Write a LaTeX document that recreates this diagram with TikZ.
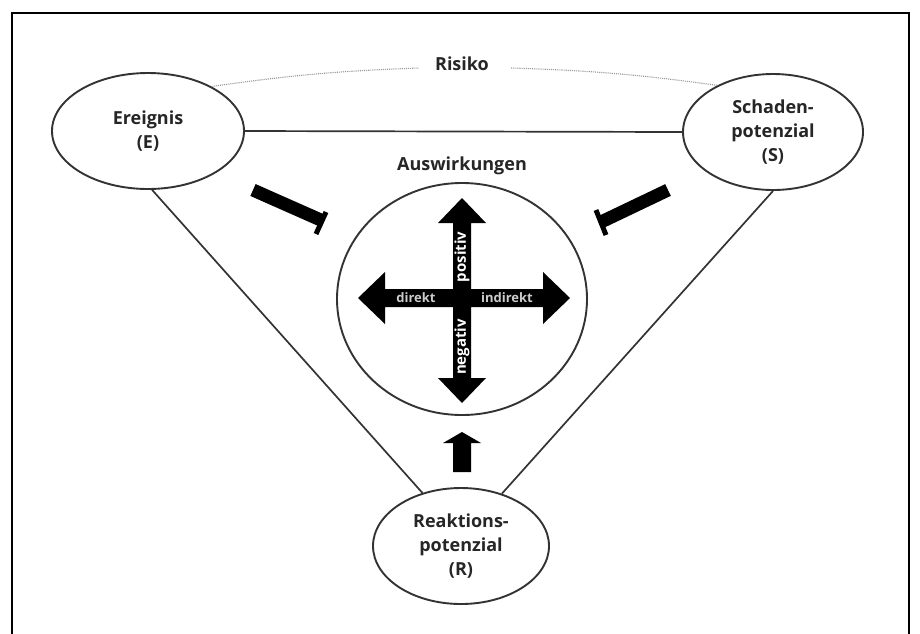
\documentclass[tikz,border=0pt]{standalone}
\usepackage{fontspec}
\setmainfont{Open Sans}
\usetikzlibrary{shapes.geometric,calc}
\definecolor{ink}{HTML}{262626}
\definecolor{lin}{HTML}{333333}
\definecolor{dots}{HTML}{999999}
\tikzset{
  ell/.style={draw=lin, line width=1.9pt, ellipse, inner sep=0pt, align=center,
    text=ink, font=\bfseries\fontsize{18}{24}\selectfont},
  lbl/.style={text=ink, font=\bfseries\fontsize{18}{22}\selectfont, inner sep=0pt},
  ln/.style={draw=lin, line width=1.7pt},
  risk/.style={draw=dots, line width=1.1pt, densely dotted},
  crosslbl/.style={text=white, font=\bfseries\fontsize{15}{15}\selectfont, inner sep=0pt},
  sidelbl/.style={text=gray!40, font=\bfseries\fontsize{13}{13}\selectfont, inner sep=0pt},
  blk/.style={draw=black, line width=13pt},
  blkbar/.style={draw=black, line width=5pt}
}
\begin{document}
\begin{tikzpicture}[x=1pt,y=-1pt]
\useasboundingbox (0,0) rectangle (920,633);
\fill[white] (0,0) rectangle (920,633);
% frame
\draw[line width=2pt] (12,645) -- (12,13) -- (909,13) -- (909,645);

% nodes
\node[ell, minimum width=192pt, minimum height=116pt] (E) at (148,131) {Ereignis\\(E)};
\node[ell, minimum width=180pt, minimum height=116pt] (S) at (773,132) {Schaden-\\potenzial\\(S)};
\node[ell, minimum width=176pt, minimum height=116pt] (R) at (461,546) {Reaktions-\\potenzial\\(R)};
\node[draw=lin, line width=1.9pt, ellipse, minimum width=250pt, minimum height=232pt, inner sep=0pt] (C) at (462,299) {};
\node[lbl] (A) at (462,166) {Auswirkungen};
\node[lbl] (Ri) at (462,64) {Risiko};

% connectors
\draw[ln] (E.east) -- (S.west);
\draw[ln] (E.-86) -- (R.126);
\draw[ln] (S.-90) -- (R.52);
\draw[risk] (E.35) to[bend left=3] ([xshift=-16pt,yshift=-4pt]Ri.west);
\draw[risk] ([xshift=22pt,yshift=-4pt]Ri.east) to[bend left=3] (S.140);

% black arrows towards the circle
\coordinate (la) at (253,190);
\coordinate (lb) at (323,221);
\draw[blk] (la) -- (lb);
\draw[blkbar] (326,212) -- (316,234);
\coordinate (ra) at (668,190);
\coordinate (rb) at (601,222);
\draw[blk] (ra) -- (rb);
\draw[blkbar] (596,210) -- (606,235);
\fill[black] (453,472) -- (453,443) -- (443,443) -- (462,432) -- (481,443)
  -- (471,443) -- (471,472) -- cycle;

% cross of arrows
\fill[black] (462,198) -- (486,223) -- (471,223) -- (471,289) -- (543,289)
  -- (543,272) -- (570,298) -- (543,324) -- (543,307) -- (471,307) -- (471,378)
  -- (486,378) -- (462,403) -- (438,378) -- (453,378) -- (453,307) -- (385,307)
  -- (385,324) -- (358,298) -- (385,272) -- (385,289) -- (453,289) -- (453,223)
  -- (438,223) -- cycle;
\node[crosslbl, rotate=90] (pos) at (462,257) {positiv};
\node[crosslbl, rotate=90] (neg) at (462,347) {negativ};
\node[sidelbl] (dir) at (416,298) {direkt};
\node[sidelbl] (ind) at (507,298) {indirekt};
\end{tikzpicture}
\end{document}
